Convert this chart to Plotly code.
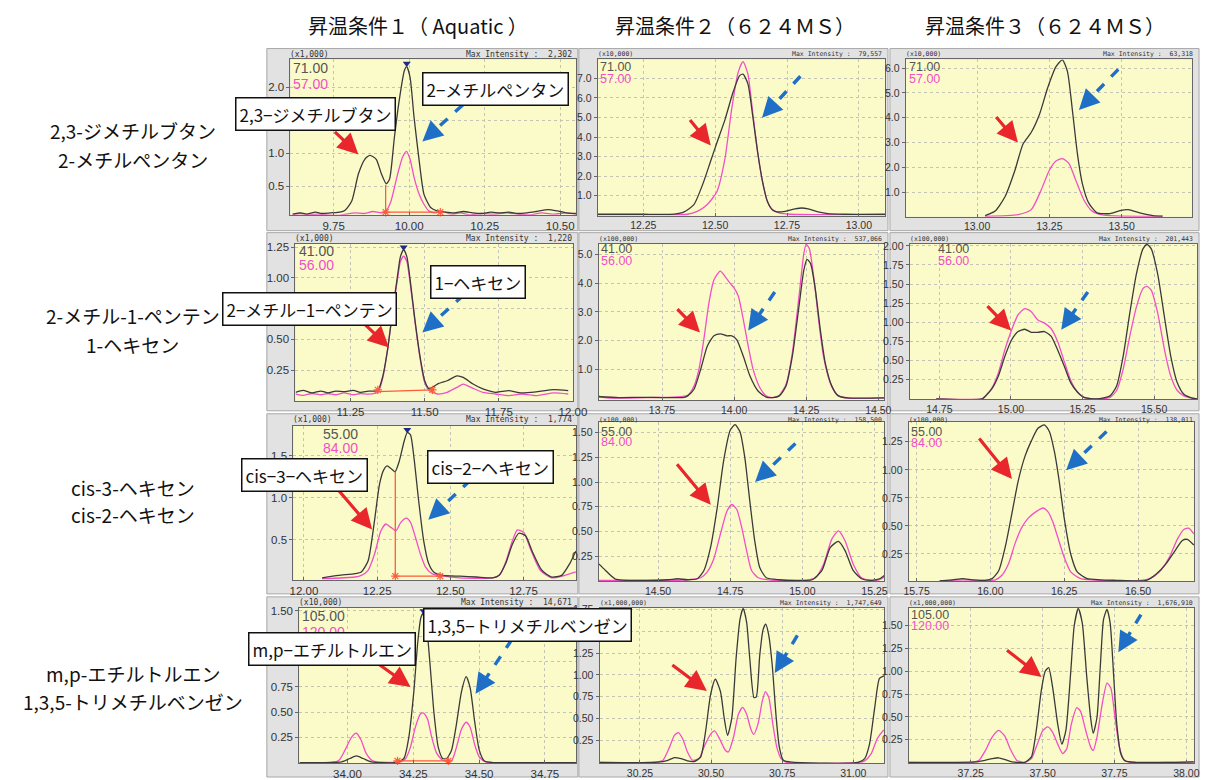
import math
import plotly.graph_objects as go

W, H = 1215, 780

# ---------------- DATA ----------------
col_titles = ["昇温条件１（ Aquatic ）", "昇温条件２（６２４ＭＳ）", "昇温条件３（６２４ＭＳ）"]
row_labels = [("2,3-ジメチルブタン", "2-メチルペンタン"),
              ("2-メチル-1-ペンテン", "1-ヘキセン"),
              ("cis-3-ヘキセン", "cis-2-ヘキセン"),
              ("m,p-エチルトルエン", "1,3,5-トリメチルベンゼン")]
box_labels = [("2,3−ジメチルブタン", "2−メチルペンタン"),
              ("2−メチル−1−ペンテン", "1−ヘキセン"),
              ("cis−3−ヘキセン", "cis−2−ヘキセン"),
              ("m,p−エチルトルエン", "1,3,5−トリメチルベンゼン")]
ion_labels = [("71.00", "57.00"), ("41.00", "56.00"), ("55.00", "84.00"), ("105.00", "120.00")]
scale_labels = ["(x1,000)", "(x10,000)", "(x10,000)",
                "(x1,000)", "(x100,000)", "(x100,000)",
                "(x1,000)", "(x100,000)", "(x100,000)",
                "(x10,000)", "(x1,000,000)", "(x1,000,000)"]
max_intensity = ["2,302", "79,557", "63,318",
                 "1,220", "537,066", "201,443",
                 "1,774", "158,500", "138,011",
                 "14,671", "1,747,649", "1,676,910"]

# Row 1
p11_black_rt = [9.614, 9.64, 9.66, 9.69, 9.71, 9.74, 9.77, 9.788, 9.810, 9.832, 9.853, 9.870, 9.891, 9.908, 9.924, 9.935,
                9.951, 9.967, 9.984, 9.992, 10.003, 10.016, 10.033, 10.049, 10.071, 10.092, 10.12, 10.15, 10.18, 10.21,
                10.24, 10.27, 10.30, 10.33, 10.36, 10.39, 10.42, 10.46, 10.49, 10.52, 10.554]
p11_black_int = [0.08, 0.10, 0.08, 0.11, 0.09, 0.10, 0.11, 0.14, 0.28, 0.69, 0.91, 0.97, 0.91, 0.69, 0.54, 0.61,
                 1.24, 1.80, 2.25, 2.31, 2.15, 1.55, 0.89, 0.38, 0.18, 0.13, 0.11, 0.10, 0.12, 0.10,
                 0.09, 0.11, 0.10, 0.11, 0.09, 0.10, 0.12, 0.15, 0.13, 0.10, 0.09]
p11_pink_rt = [9.614, 9.64, 9.67, 9.70, 9.73, 9.76, 9.79, 9.82, 9.85, 9.88, 9.91, 9.925, 9.940, 9.962, 9.978, 9.991,
               10.003, 10.016, 10.033, 10.049, 10.065, 10.085, 10.11, 10.14, 10.17, 10.20, 10.24, 10.28, 10.32, 10.36,
               10.40, 10.44, 10.48, 10.52, 10.554]
p11_pink_int = [0.07, 0.09, 0.07, 0.08, 0.07, 0.06, 0.08, 0.10, 0.09, 0.12, 0.10, 0.14, 0.28, 0.69, 0.94, 1.03,
                0.91, 0.64, 0.38, 0.23, 0.13, 0.10, 0.12, 0.08, 0.10, 0.07, 0.09, 0.08, 0.10, 0.08,
                0.07, 0.10, 0.08, 0.10, 0.08]

p12_black_rt = [12.091, 12.19, 12.25, 12.358, 12.392, 12.426, 12.460, 12.483, 12.506, 12.534, 12.5625, 12.585, 12.597,
                12.614, 12.631, 12.648, 12.665, 12.682, 12.699, 12.716, 12.744, 12.778, 12.801, 12.824, 12.858, 12.892,
                12.95, 13.091]
p12_black_int = [0.05, 0.05, 0.05, 0.06, 0.17, 0.54, 1.71, 2.71, 3.71, 4.88, 6.30, 7.14, 7.22,
                 6.72, 5.05, 3.21, 1.71, 0.70, 0.28, 0.17, 0.20, 0.32, 0.37, 0.32, 0.17, 0.08,
                 0.05, 0.05]
p12_pink_rt = [12.091, 12.30, 12.403, 12.4375, 12.472, 12.506, 12.534, 12.557, 12.580, 12.597, 12.614, 12.631, 12.648,
               12.665, 12.682, 12.699, 12.722, 12.76, 13.091]
p12_pink_int = [0.03, 0.03, 0.05, 0.20, 0.54, 1.20, 2.88, 5.38, 7.31, 7.86, 7.22, 5.22, 3.21,
                1.71, 0.70, 0.28, 0.12, 0.05, 0.03]

p13_black_rt = [13.028, 13.0625, 13.097, 13.131, 13.159, 13.1875, 13.216, 13.244, 13.273, 13.295, 13.3125, 13.330,
                13.347, 13.364, 13.386, 13.415, 13.460, 13.494, 13.523, 13.5625, 13.608, 13.642]
p13_black_int = [0.05, 0.23, 0.82, 1.88, 2.94, 3.41, 4.14, 5.20, 6.06, 6.33, 5.87, 4.27,
                 2.55, 1.35, 0.56, 0.16, 0.13, 0.25, 0.29, 0.16, 0.05, 0.03]
p13_pink_rt = [13.028, 13.142, 13.1875, 13.222, 13.25, 13.273, 13.295, 13.318, 13.341, 13.369, 13.398, 13.4375, 13.642]
p13_pink_int = [0.02, 0.09, 0.29, 1.09, 1.88, 2.25, 2.35, 2.15, 1.49, 0.69, 0.23, 0.07, 0.02]

# Row 2
p21_rt = [11.065, 11.09, 11.12, 11.15, 11.174, 11.20, 11.228, 11.26, 11.283, 11.31, 11.342, 11.359, 11.375, 11.391,
          11.408, 11.418, 11.429, 11.440, 11.451, 11.467, 11.484, 11.50, 11.516, 11.543, 11.576, 11.609, 11.630,
          11.663, 11.696, 11.739, 11.783, 11.826, 11.88, 11.935, 11.984]
p21_black_int = [0.07, 0.085, 0.065, 0.08, 0.065, 0.08, 0.075, 0.085, 0.07, 0.08, 0.083, 0.204, 0.419, 0.715,
                 1.011, 1.172, 1.231, 1.172, 0.984, 0.661, 0.366, 0.164, 0.097, 0.137, 0.164, 0.204, 0.191,
                 0.137, 0.097, 0.07, 0.083, 0.065, 0.075, 0.091, 0.083]
p21_pink_int = [0.056, 0.045, 0.06, 0.05, 0.06, 0.05, 0.065, 0.05, 0.06, 0.055, 0.07, 0.19, 0.419, 0.715,
                0.984, 1.132, 1.177, 1.132, 0.957, 0.648, 0.352, 0.15, 0.083, 0.056, 0.07, 0.11, 0.137,
                0.102, 0.07, 0.056, 0.043, 0.056, 0.043, 0.065, 0.056]

p22_black_rt = [13.530, 13.60, 13.68, 13.75, 13.827, 13.839, 13.861, 13.884, 13.907, 13.930, 13.952, 13.975, 13.992,
                14.009, 14.032, 14.055, 14.083, 14.111, 14.134, 14.157, 14.180, 14.202, 14.225, 14.242, 14.253,
                14.265, 14.282, 14.299, 14.316, 14.339, 14.361, 14.395, 14.52]
p22_black_int = [0.05, 0.02, 0.03, 0.02, 0.03, 0.08, 0.31, 1.00, 1.81, 2.17, 2.24, 2.17, 2.17,
                 2.04, 1.46, 0.77, 0.25, 0.04, 0.02, 0.08, 0.42, 1.46, 3.19, 4.46, 4.83,
                 4.69, 3.77, 2.38, 1.23, 0.42, 0.08, 0.01, 0.01]
p22_pink_rt = [13.530, 13.55, 13.70, 13.839, 13.861, 13.878, 13.895, 13.9125, 13.930, 13.952, 13.969, 13.986, 13.998,
               14.015, 14.032, 14.049, 14.066, 14.089, 14.111, 14.134, 14.157, 14.180, 14.202, 14.225, 14.242, 14.25,
               14.261, 14.276, 14.293, 14.310, 14.333, 14.356, 14.384, 14.52]
p22_pink_int = [0.08, 0.02, 0.02, 0.10, 0.42, 1.00, 2.04, 3.30, 4.11, 4.42, 4.23, 4.00, 3.86,
                3.54, 2.73, 1.81, 1.00, 0.37, 0.08, 0.02, 0.10, 0.48, 1.58, 3.54, 5.04, 5.36,
                5.20, 4.23, 2.73, 1.46, 0.54, 0.14, 0.01, 0.01]

p23_rt = [14.739, 14.899, 14.911, 14.933, 14.956, 14.979, 15.002, 15.025, 15.048, 15.071, 15.094, 15.117, 15.140,
          15.163, 15.186, 15.209, 15.232, 15.255, 15.30, 15.346, 15.369, 15.392, 15.415, 15.438, 15.461, 15.475,
          15.490, 15.5125, 15.536, 15.558, 15.581, 15.604, 15.633, 15.65]
p23_black_int = [0.0, 0.0, 0.04, 0.13, 0.30, 0.56, 0.77, 0.88, 0.91, 0.87, 0.87, 0.88, 0.82,
                 0.64, 0.43, 0.21, 0.09, 0.02, 0.0, 0.04, 0.17, 0.56, 1.12, 1.63, 1.96, 2.02,
                 1.96, 1.63, 1.07, 0.56, 0.21, 0.06, 0.01, 0.0]
p23_pink_int = [0.0, 0.0, 0.03, 0.14, 0.34, 0.645, 0.90, 1.10, 1.18, 1.14, 1.03, 0.99, 0.92,
                0.75, 0.49, 0.24, 0.09, 0.02, 0.0, 0.02, 0.11, 0.39, 0.82, 1.20, 1.44, 1.47,
                1.42, 1.12, 0.645, 0.30, 0.11, 0.04, 0.01, 0.0]

# Row 3
p31_black_rt = [12.062, 12.118, 12.174, 12.196, 12.219, 12.241, 12.258, 12.272, 12.284, 12.297, 12.311, 12.325, 12.342,
                12.353, 12.364, 12.376, 12.392, 12.409, 12.426, 12.443, 12.476, 12.5325, 12.589, 12.645, 12.667,
                12.689, 12.712, 12.734, 12.757, 12.779, 12.8125, 12.846, 12.880, 12.908, 12.929]
p31_black_int = [0.05, 0.08, 0.10, 0.12, 0.25, 0.73, 1.16, 1.33, 1.38, 1.35, 1.31, 1.43, 1.67,
                 1.78, 1.75, 1.47, 0.96, 0.49, 0.22, 0.12, 0.08, 0.07, 0.06, 0.05, 0.08,
                 0.22, 0.45, 0.58, 0.55, 0.37, 0.14, 0.06, 0.08, 0.22, 0.37]
p31_pink_rt = [12.062, 12.174, 12.196, 12.219, 12.241, 12.263, 12.280, 12.297, 12.314, 12.331, 12.350, 12.364, 12.381,
               12.398, 12.415, 12.437, 12.476, 12.5325, 12.645, 12.667, 12.689, 12.712, 12.729, 12.751, 12.774,
               12.807, 12.846, 12.891, 12.929]
p31_pink_int = [0.04, 0.06, 0.08, 0.14, 0.33, 0.61, 0.69, 0.65, 0.61, 0.71, 0.76, 0.71, 0.53,
                0.33, 0.18, 0.10, 0.07, 0.05, 0.05, 0.08, 0.235, 0.49, 0.62, 0.59, 0.39,
                0.14, 0.05, 0.08, 0.12]

p32_black_rt = [14.295, 14.318, 14.352, 14.443, 14.534, 14.568, 14.602, 14.636, 14.659, 14.682, 14.705, 14.727, 14.75,
                14.767, 14.784, 14.801, 14.818, 14.835, 14.852, 14.875, 14.920, 14.989, 15.034, 15.068, 15.097,
                15.125, 15.148, 15.176, 15.205, 15.239, 15.267, 15.284]
p32_black_int = [0.173, 0.107, 0.02, 0.007, 0.013, 0.023, 0.013, 0.023, 0.107, 0.34, 0.74, 1.21, 1.523,
                 1.58, 1.507, 1.24, 0.807, 0.407, 0.14, 0.033, 0.013, 0.007, 0.013, 0.107, 0.34,
                 0.40, 0.307, 0.107, 0.023, 0.007, 0.023, 0.057]
p32_pink_rt = [14.295, 14.557, 14.602, 14.648, 14.670, 14.693, 14.716, 14.739, 14.756, 14.773, 14.790, 14.807, 14.824,
               14.847, 14.898, 15.011, 15.045, 15.074, 15.102, 15.125, 15.148, 15.176, 15.205, 15.239, 15.267, 15.284]
p32_pink_int = [0.007, 0.007, 0.013, 0.033, 0.09, 0.223, 0.473, 0.707, 0.773, 0.723, 0.54, 0.307, 0.107,
                0.033, 0.007, 0.007, 0.033, 0.173, 0.423, 0.507, 0.407, 0.173, 0.033, 0.007, 0.013, 0.04]

p33_black_rt = [15.828, 15.872, 15.906, 15.939, 15.983, 16.006, 16.028, 16.05, 16.072, 16.094, 16.117, 16.139, 16.161,
                16.183, 16.2, 16.217, 16.233, 16.25, 16.272, 16.294, 16.328, 16.372, 16.428, 16.494, 16.528, 16.561,
                16.594, 16.628, 16.65, 16.667, 16.689]
p33_black_int = [0.01, 0.02, 0.03, 0.02, 0.015, 0.03, 0.10, 0.31, 0.60, 0.90, 1.12, 1.26, 1.37,
                 1.40, 1.34, 1.16, 0.90, 0.57, 0.25, 0.09, 0.03, 0.02, 0.015, 0.01, 0.015, 0.07,
                 0.16, 0.29, 0.37, 0.38, 0.33]
p33_pink_rt = [15.828, 15.906, 15.983, 16.017, 16.039, 16.061, 16.083, 16.106, 16.128, 16.156, 16.178, 16.194, 16.211,
               16.228, 16.25, 16.272, 16.306, 16.372, 16.494, 16.539, 16.572, 16.606, 16.633, 16.656, 16.672, 16.689]
p33_pink_int = [0.01, 0.02, 0.015, 0.02, 0.06, 0.16, 0.34, 0.485, 0.57, 0.63, 0.66, 0.63, 0.54,
                0.40, 0.22, 0.09, 0.03, 0.015, 0.01, 0.03, 0.09, 0.22, 0.38, 0.47, 0.48, 0.43]

# Row 4
p41_black_rt = [33.818, 33.978, 34.009, 34.034, 34.059, 34.090, 34.177, 34.214, 34.233, 34.252, 34.267, 34.279, 34.289,
                34.299, 34.314, 34.329, 34.345, 34.362, 34.377, 34.395, 34.414, 34.433, 34.451, 34.466, 34.483,
                34.501, 34.520, 34.551, 34.751, 34.868]
p41_black_int = [0.0, 0.007, 0.04, 0.065, 0.04, 0.007, 0.0, 0.04, 0.25, 0.70, 1.19, 1.435, 1.48,
                 1.39, 0.96, 0.48, 0.15, 0.04, 0.04, 0.12, 0.38, 0.70, 0.85, 0.74, 0.41,
                 0.12, 0.016, 0.0, 0.0, 0.0]
p41_pink_rt = [33.818, 33.965, 33.990, 34.015, 34.034, 34.052, 34.071, 34.096, 34.202, 34.221, 34.239, 34.258, 34.277,
               34.289, 34.304, 34.320, 34.339, 34.362, 34.395, 34.414, 34.433, 34.451, 34.466, 34.483, 34.501,
               34.526, 34.751, 34.868]
p41_pink_int = [0.0, 0.016, 0.12, 0.25, 0.29, 0.22, 0.09, 0.016, 0.007, 0.04, 0.15, 0.35, 0.48,
                0.49, 0.43, 0.25, 0.09, 0.023, 0.016, 0.15, 0.33, 0.40, 0.35, 0.18, 0.055,
                0.007, 0.0, 0.0]

p42_black_rt = [30.108, 30.313, 30.348, 30.371, 30.394, 30.417, 30.440, 30.463, 30.481, 30.498, 30.515, 30.533, 30.546,
                30.558, 30.573, 30.588, 30.602, 30.613, 30.625, 30.636, 30.651, 30.659, 30.671, 30.683, 30.692,
                30.703, 30.715, 30.729, 30.740, 30.754, 30.786, 31.017, 31.040, 31.057, 31.075, 31.092, 31.108]
p42_black_int = [0.0, 0.003, 0.025, 0.055, 0.044, 0.018, 0.01, 0.06, 0.36, 0.77, 0.95, 0.81, 0.51,
                 0.31, 0.51, 1.19, 1.64, 1.76, 1.60, 1.19, 0.74, 0.75, 1.22, 1.52, 1.58,
                 1.45, 1.11, 0.51, 0.175, 0.025, 0.003, 0.0, 0.044, 0.21, 0.62, 0.96, 0.99]
p42_pink_rt = [30.108, 30.302, 30.331, 30.354, 30.371, 30.385, 30.400, 30.417, 30.4345, 30.458, 30.475, 30.498, 30.512,
               30.530, 30.550, 30.561, 30.579, 30.596, 30.611, 30.625, 30.640, 30.650, 30.665, 30.680, 30.691,
               30.703, 30.717, 30.731, 30.746, 30.763, 31.017, 31.040, 31.063, 31.084, 31.104, 31.108]
p42_pink_int = [0.0, 0.003, 0.025, 0.175, 0.31, 0.34, 0.27, 0.12, 0.025, 0.044, 0.175, 0.32, 0.36,
                0.27, 0.14, 0.12, 0.29, 0.55, 0.63, 0.55, 0.38, 0.32, 0.44, 0.70, 0.81,
                0.74, 0.44, 0.175, 0.045, 0.003, 0.0, 0.018, 0.10, 0.27, 0.36, 0.37]

p43_black_rt = [37.034, 37.267, 37.301, 37.324, 37.347, 37.370, 37.393, 37.438, 37.461, 37.478, 37.495, 37.509, 37.521,
                37.535, 37.5525, 37.567, 37.581, 37.598, 37.610, 37.624, 37.638, 37.653, 37.667, 37.676, 37.689,
                37.701, 37.712, 37.724, 37.735, 37.747, 37.758, 37.772, 37.787, 37.826, 37.952, 38.026]
p43_black_int = [0.0, 0.005, 0.023, 0.04, 0.05, 0.03, 0.005, 0.0, 0.06, 0.35, 0.78, 1.00, 1.04,
                 0.82, 0.42, 0.20, 0.35, 1.00, 1.50, 1.69, 1.53, 0.96, 0.49, 0.32, 0.49,
                 1.07, 1.57, 1.68, 1.53, 0.96, 0.42, 0.095, 0.016, 0.0, 0.0, 0.005]
p43_pink_rt = [37.034, 37.256, 37.279, 37.301, 37.324, 37.347, 37.368, 37.387, 37.410, 37.438, 37.461, 37.478, 37.501,
               37.518, 37.535, 37.5525, 37.570, 37.584, 37.600, 37.619, 37.632, 37.650, 37.667, 37.676, 37.689,
               37.707, 37.724, 37.737, 37.752, 37.767, 37.783, 37.804, 37.952, 38.026]
p43_pink_int = [0.0, 0.0, 0.023, 0.13, 0.275, 0.35, 0.29, 0.15, 0.023, 0.0, 0.04, 0.17, 0.35,
                0.39, 0.33, 0.20, 0.095, 0.15, 0.42, 0.60, 0.56, 0.35, 0.17, 0.13, 0.275,
                0.635, 0.87, 0.82, 0.49, 0.17, 0.03, 0.0, 0.0, 0.005]

# Integration marks (software overlays in column 1)
p11_mark_rt = [9.922, 9.922, 10.103]
p11_mark_int = [0.52, 0.11, 0.11]
p21_mark_rt = [11.342, 11.526]
p21_mark_int = [0.075, 0.09]
p31_mark_rt = [12.312, 12.312, 12.465]
p31_mark_int = [1.31, 0.07, 0.07]
p41_mark_rt = [34.190, 34.383]
p41_mark_int = [0.016, 0.016]
apex_rt = [9.992, 11.429, 12.353, 34.289]
apex_int = [2.36, 1.25, 1.81, 1.50]

# ---------------- LAYOUT / STYLE ----------------
BLACK = "#3a3a3a"
PINK = "#f24fc6"
YELLOW = "#fbfbc9"
FRAME = "#e2e2e2"
RED = "#e8262b"
BLUE = "#1f6fc6"
MARK = "#ff5a3c"
JP = "Noto Sans CJK JP"
TICKF = "Liberation Sans"

panels = [
    dict(bx=p11_black_rt, by=p11_black_int, px=p11_pink_rt, py=p11_pink_int, box=(290, 580, 55, 212),
         xr=[9.607, 10.552], yr=[0.07, 2.42], yt=[0.5, 1.0, 1.5, 2.0], yf=".1f"),
    dict(bx=p12_black_rt, by=p12_black_int, px=p12_pink_rt, py=p12_pink_int, box=(602, 894, 55, 213),
         xr=[12.091, 13.091], yr=[-0.03, 7.97], yt=[1, 2, 3, 4, 5, 6, 7], yf=".1f"),
    dict(bx=p13_black_rt, by=p13_black_int, px=p13_pink_rt, py=p13_pink_int, box=(915, 1206, 55, 214),
         xr=[12.753, 13.744], yr=[0.0, 6.35], yt=[1, 2, 3, 4, 5, 6], yf=".1f"),
    dict(bx=p21_rt, by=p21_black_int, px=p21_rt, py=p21_pink_int, box=(295, 577, 241, 400),
         xr=[11.064, 12.0], yr=[0.0, 1.28], yt=[0.25, 0.5, 0.75, 1.0, 1.25], yf=".2f"),
    dict(bx=p22_black_rt, by=p22_black_int, px=p22_pink_rt, py=p22_pink_int, box=(603, 893, 241, 399),
         xr=[13.530, 14.52], yr=[-0.06, 5.38], yt=[1, 2, 3, 4, 5], yf=".1f"),
    dict(bx=p23_rt, by=p23_black_int, px=p23_rt, py=p23_pink_int, box=(919, 1211, 241, 398),
         xr=[14.646, 15.65], yr=[0.0, 2.03], yt=[0.25, 0.5, 0.75, 1.0, 1.25, 1.5, 1.75, 2.0], yf=".2f"),
    dict(bx=p31_black_rt, by=p31_black_int, px=p31_pink_rt, py=p31_pink_int, box=(293, 580, 425, 581),
         xr=[11.964, 12.929], yr=[0.024, 1.859], yt=[0.5, 1.0, 1.5], yf=".1f"),
    dict(bx=p32_black_rt, by=p32_black_int, px=p32_pink_rt, py=p32_pink_int, box=(603, 893, 421, 582),
         xr=[14.294, 15.283], yr=[0.0, 1.61], yt=[0.25, 0.5, 0.75, 1.0, 1.25, 1.5], yf=".2f"),
    dict(bx=p33_black_rt, by=p33_black_int, px=p33_pink_rt, py=p33_pink_int, box=(918, 1208, 421, 582),
         xr=[15.723, 16.690], yr=[0.009, 1.429], yt=[0.25, 0.5, 0.75, 1.0, 1.25], yf=".2f"),
    dict(bx=p41_black_rt, by=p41_black_int, px=p41_pink_rt, py=p41_pink_int, box=(299, 580, 609, 766),
         xr=[33.817, 34.868], yr=[-0.006, 1.532], yt=[0.25, 0.5, 0.75, 1.0, 1.25, 1.5], yf=".2f"),
    dict(bx=p42_black_rt, by=p42_black_int, px=p42_pink_rt, py=p42_pink_int, box=(604, 893, 609, 766),
         xr=[30.108, 31.108], yr=[-0.008, 1.767], yt=[0.25, 0.5, 0.75, 1.0, 1.25, 1.5, 1.75], yf=".2f"),
    dict(bx=p43_black_rt, by=p43_black_int, px=p43_pink_rt, py=p43_pink_int, box=(918, 1208, 609, 766),
         xr=[37.034, 38.027], yr=[-0.009, 1.698], yt=[0.25, 0.5, 0.75, 1.0, 1.25, 1.5], yf=".2f"),
]

marks = {0: (p11_mark_rt, p11_mark_int), 3: (p21_mark_rt, p21_mark_int),
         6: (p31_mark_rt, p31_mark_int), 9: (p41_mark_rt, p41_mark_int)}

frame_cols = [(266, 582), (583, 897), (899, 1213)]
frame_rows = [(44, 228), (230, 410), (413, 595), (598, 780)]


def fx(x):
    return x / W


def fy(y):
    return 1 - y / H


fig = go.Figure()
layout = dict(width=W, height=H, margin=dict(l=0, r=0, t=0, b=0), autosize=False,
              paper_bgcolor="white", plot_bgcolor="rgba(0,0,0,0)", showlegend=False)
shapes = []
annotations = []

# frames
for r, (y0, y1) in enumerate(frame_rows):
    for c, (x0, x1) in enumerate(frame_cols):
        shapes.append(dict(type="rect", xref="paper", yref="paper", x0=fx(x0), x1=fx(x1), y0=fy(y1), y1=fy(y0),
                           fillcolor=FRAME, line=dict(color="#a8a8a8", width=1), layer="below"))

for i, p in enumerate(panels):
    n = i + 1
    xs = "" if n == 1 else str(n)
    xa, ya = "x" + xs, "y" + xs
    x0, x1, y0, y1 = p["box"]
    shapes.append(dict(type="rect", xref="paper", yref="paper", x0=fx(x0), x1=fx(x1), y0=fy(y1), y1=fy(y0),
                       fillcolor=YELLOW, line=dict(width=0), layer="below"))
    tsize = 11.5 if i % 3 == 0 else 10.5
    layout["xaxis" + xs] = dict(domain=[fx(x0), fx(x1)], range=p["xr"], anchor=ya, tickmode="linear", tick0=0,
                                dtick=0.25, tickformat=".2f", showgrid=True, gridcolor="#c4c4b4", griddash="dot",
                                gridwidth=1, zeroline=False, showline=True, linecolor="#666", linewidth=1,
                                mirror=True, ticks="inside", ticklen=3, tickcolor="#666",
                                tickfont=dict(family=TICKF, size=tsize, color="#333"))
    layout["yaxis" + xs] = dict(domain=[fy(y1), fy(y0)], range=p["yr"], anchor=xa, tickmode="array",
                                tickvals=p["yt"], tickformat=p["yf"], showgrid=True, gridcolor="#c4c4b4",
                                griddash="dot", gridwidth=1, zeroline=False, showline=True, linecolor="#666",
                                linewidth=1, mirror=True, ticks="outside", ticklen=3, tickcolor="#666",
                                tickfont=dict(family=TICKF, size=tsize, color="#333"))
    fig.add_trace(go.Scatter(x=p["px"], y=p["py"], xaxis=xa, yaxis=ya, mode="lines", hoverinfo="skip",
                             line=dict(color=PINK, width=1.3, shape="spline", smoothing=0.6)))
    fig.add_trace(go.Scatter(x=p["bx"], y=p["by"], xaxis=xa, yaxis=ya, mode="lines", hoverinfo="skip",
                             line=dict(color=BLACK, width=1.3, shape="spline", smoothing=0.6)))
    if i in marks:
        mx, my = marks[i]
        fig.add_trace(go.Scatter(x=mx, y=my, xaxis=xa, yaxis=ya, mode="lines", hoverinfo="skip",
                                 line=dict(color=MARK, width=1.3)))
        fig.add_trace(go.Scatter(x=[mx[0], mx[-1]], y=[my[-1], my[-1]], xaxis=xa, yaxis=ya, mode="markers",
                                 hoverinfo="skip", cliponaxis=False,
                                 marker=dict(symbol="asterisk-open", size=7, color=MARK,
                                             line=dict(color=MARK, width=1.2))))
        k = list(marks.keys()).index(i)
        fig.add_trace(go.Scatter(x=[apex_rt[k]], y=[apex_int[k]], xaxis=xa, yaxis=ya, mode="markers",
                                 hoverinfo="skip", cliponaxis=False,
                                 marker=dict(symbol="triangle-down", size=7, color="#1c2a8a")))
    # header strip text
    fx0, fx1 = frame_cols[i % 3]
    fy0 = frame_rows[i // 3][0]
    hs = 8 if i % 3 == 0 else 6.5
    annotations.append(dict(x=fx(x0 - 2), y=fy(fy0 + 6), xref="paper", yref="paper", text=scale_labels[i],
                            showarrow=False, xanchor="left", yanchor="middle",
                            font=dict(family="DejaVu Sans Mono", size=hs, color="#333")))
    annotations.append(dict(x=fx(fx1 - 4), y=fy(fy0 + 6), xref="paper", yref="paper",
                            text="Max Intensity :  " + max_intensity[i], showarrow=False, xanchor="right",
                            yanchor="middle", font=dict(family="DejaVu Sans Mono", size=hs, color="#333")))

# ion legend labels (left x, y of first line, line gap); the 2nd panel of row 4 is hidden by a label box
ion_pos = {0: (291, 64, 16), 1: (602, 63, 12), 2: (916, 63, 12),
           3: (297, 249, 14), 4: (603, 247, 12), 5: (946, 247, 12),
           6: (321, 433, 15), 7: (603, 431, 11), 8: (918, 431, 12),
           9: (300, 617, 16), 11: (918, 616, 11)}
for i, (lx, ly, gap) in ion_pos.items():
    a, b = ion_labels[i // 3]
    fs = 14 if i % 3 == 0 else 12.5
    annotations.append(dict(x=fx(lx), y=fy(ly), xref="paper", yref="paper", text=a, showarrow=False,
                            xanchor="left", yanchor="middle", font=dict(family=TICKF, size=fs, color="#555")))
    annotations.append(dict(x=fx(lx), y=fy(ly + gap), xref="paper", yref="paper", text=b, showarrow=False,
                            xanchor="left", yanchor="middle", font=dict(family=TICKF, size=fs, color=PINK)))

# column titles
for c, (t, cx) in enumerate(zip(col_titles, [420, 742, 1057])):
    annotations.append(dict(x=fx(cx), y=fy(21), xref="paper", yref="paper", text=t, showarrow=False,
                            xanchor="center", yanchor="middle", font=dict(family=JP, size=20, color="#111")))

# row labels
row_y = [(127, 156), (314, 343), (487, 515), (675, 704)]
for (a, b), (ya_, yb_) in zip(row_labels, row_y):
    for t, yy in ((a, ya_), (b, yb_)):
        annotations.append(dict(x=fx(130), y=fy(yy), xref="paper", yref="paper", text=t, showarrow=False,
                                xanchor="center", yanchor="middle", font=dict(family=JP, size=19, color="#111")))

# arrows: (tail, head) in pixels
red_arrows = [((334, 127), (359, 151)), ((695, 115), (717, 142)), ((1006, 112), (1029, 139)),
              ((364, 321), (390, 346)), ((682, 306), (706, 331)), ((997, 303), (1022, 329)),
              ((337, 488), (373, 530)), ((682, 463), (717, 505)), ((989, 437), (1023, 479)),
              ((377, 664), (412, 689)), ((677, 666), (713, 693)), ((1017, 651), (1053, 679))]
blue_arrows = [((465, 101), (424, 138)), ((808, 72), (769, 114)), ((1131, 65), (1091, 106)),
               ((466, 293), (424, 331)), ((782, 290), (755, 329)), ((1100, 290), (1073, 328)),
               ((473, 480), (430, 520)), ((803, 443), (762, 482)), ((1119, 431), (1078, 470)),
               ((515, 641), (478, 696)), ((805, 637), (782, 675)), ((1154, 616), (1131, 654))]

for tail, head in red_arrows:
    annotations.append(dict(x=fx(head[0]), y=fy(head[1]), xref="paper", yref="paper", text="",
                            showarrow=True, ax=tail[0] - head[0], ay=tail[1] - head[1], arrowhead=2,
                            arrowsize=1.3, arrowwidth=3.2, arrowcolor=RED))
for tail, head in blue_arrows:
    dx, dy = head[0] - tail[0], head[1] - tail[1]
    L = math.hypot(dx, dy)
    ux, uy = dx / L, dy / L
    ex, ey = head[0] - ux * 10, head[1] - uy * 10
    shapes.append(dict(type="line", xref="paper", yref="paper", x0=fx(tail[0]), y0=fy(tail[1]), x1=fx(ex),
                       y1=fy(ey), line=dict(color=BLUE, width=3.4, dash="dash"), layer="above"))
    annotations.append(dict(x=fx(head[0]), y=fy(head[1]), xref="paper", yref="paper", text="",
                            showarrow=True, ax=-ux * 12, ay=-uy * 12, arrowhead=2, arrowsize=1.2,
                            arrowwidth=3.4, arrowcolor=BLUE))

# compound label boxes (center px)
box_pos = [((315, 110), (498, 85)), ((309, 307), (481, 280)), ((304, 475), (493, 467)), ((332, 651), (531, 626))]
for (a, b), (pa, pb) in zip(box_labels, box_pos):
    for t, (cx, cy) in ((a, pa), (b, pb)):
        annotations.append(dict(x=fx(cx), y=fy(cy), xref="paper", yref="paper", text=t, showarrow=False,
                                xanchor="center", yanchor="middle", bgcolor="white", bordercolor="#111",
                                borderwidth=1.5, borderpad=3, font=dict(family=JP, size=17, color="#111")))

layout["shapes"] = shapes
layout["annotations"] = annotations
fig.update_layout(**layout)
fig.write_html("out.html", config={"displayModeBar": False, "staticPlot": True},
               post_script="document.body.style.margin='0px';")
